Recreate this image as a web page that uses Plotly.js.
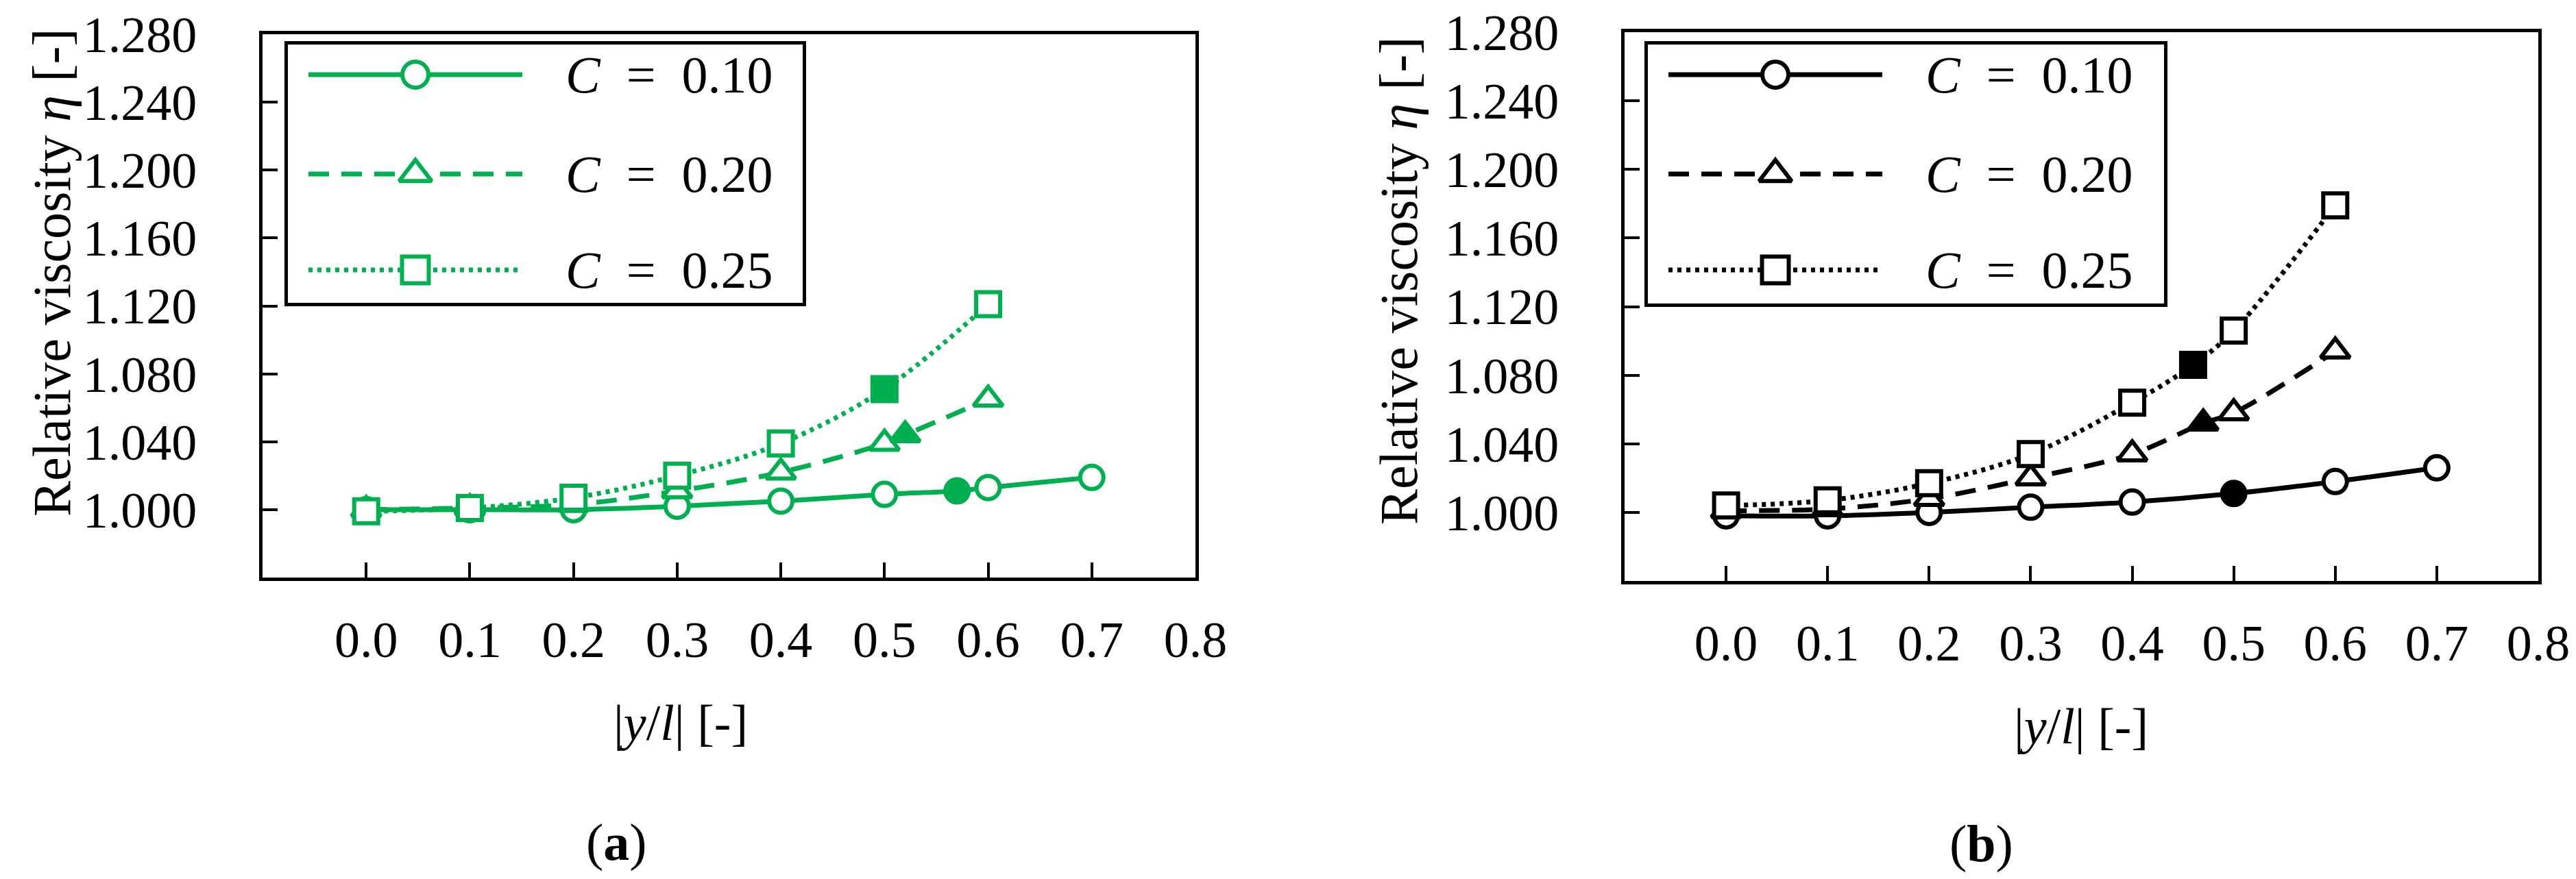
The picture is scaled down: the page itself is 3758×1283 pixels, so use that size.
<!DOCTYPE html>
<html>
<head>
<meta charset="utf-8">
<script src="https://cdn.plot.ly/plotly-3.0.1.min.js"></script>
<style>
  html, body { margin: 0; padding: 0; background: #fff; }
  #chart { width: 3758px; height: 1283px; }
</style>
</head>
<body>
<div id="chart"></div>
<script>

// ---- data ----
var xTicks = [0.0, 0.1, 0.2, 0.3, 0.4, 0.5, 0.6, 0.7, 0.8];
var yTicks = [1.000, 1.040, 1.080, 1.120, 1.160, 1.200, 1.240, 1.280];
var seriesNames = ['C = 0.10', 'C = 0.20', 'C = 0.25'];

// (a) green
var aC10X = [0.0, 0.1, 0.2, 0.3, 0.4, 0.5, 0.57, 0.6, 0.7];
var aC10Y = [1.000, 1.000, 1.000, 1.002, 1.005, 1.009, 1.011, 1.013, 1.019];
var aC10Solid = [0, 0, 0, 0, 0, 0, 1, 0, 0];

var aC20X = [0.0, 0.1, 0.2, 0.3, 0.4, 0.5, 0.52, 0.6];
var aC20Y = [1.000, 1.001, 1.003, 1.011, 1.022, 1.039, 1.044, 1.065];
var aC20Solid = [0, 0, 0, 0, 0, 0, 1, 0];

var aC25X = [0.0, 0.1, 0.2, 0.3, 0.4, 0.5, 0.6];
var aC25Y = [0.999, 1.001, 1.007, 1.020, 1.039, 1.071, 1.121];
var aC25Solid = [0, 0, 0, 0, 0, 1, 0];

// (b) black
var bC10X = [0.0, 0.1, 0.2, 0.3, 0.4, 0.5, 0.6, 0.7];
var bC10Y = [0.998, 0.998, 1.000, 1.003, 1.006, 1.011, 1.018, 1.026];
var bC10Solid = [0, 0, 0, 0, 0, 1, 0, 0];

var bC20X = [0.0, 0.1, 0.2, 0.3, 0.4, 0.47, 0.5, 0.6];
var bC20Y = [1.001, 1.002, 1.008, 1.020, 1.034, 1.052, 1.058, 1.094];
var bC20Solid = [0, 0, 0, 0, 0, 1, 0, 0];

var bC25X = [0.0, 0.1, 0.2, 0.3, 0.4, 0.46, 0.5, 0.6];
var bC25Y = [1.004, 1.007, 1.017, 1.034, 1.064, 1.086, 1.106, 1.179];
var bC25Solid = [0, 0, 0, 0, 0, 1, 0, 0];

// ---- styles ----
var W = 3758, H = 1283;
var GREEN = '#00b050';
var BLACK = '#000000';
var FONT = 'Liberation Serif, Times New Roman, serif';
var symbols = ['circle', 'triangle-up', 'square'];
var sizes = [34, 37, 35];
var dashes = ['solid', '30px,18px', '6px,7px'];

function px2x(p) { return p / W; }
function px2y(p) { return 1 - p / H; }

function series(x, y, solid, k, color, xa, ya) {
    return {
        x: x, y: y,
        xaxis: xa, yaxis: ya,
        type: 'scatter',
        mode: 'lines+markers',
        line: {color: color, width: 7, dash: dashes[k], shape: 'spline', smoothing: 1},
        marker: {
            symbol: symbols[k],
            size: sizes[k],
            color: solid.map(function (s) { return s ? color : '#ffffff'; }),
            line: {color: color, width: 6}
        },
        showlegend: false,
        hoverinfo: 'x+y'
    };
}

// legend box geometry (pixels inside the box)
var legRows = [44, 189, 329];
var legLineX = [30, 342];
var legMarkX = 186;

function legendLine(k, color, xa, ya) {
    return {
        x: legLineX, y: [legRows[k], legRows[k]],
        xaxis: xa, yaxis: ya,
        type: 'scatter', mode: 'lines',
        line: {color: color, width: 7, dash: dashes[k]},
        showlegend: false, hoverinfo: 'skip'
    };
}
function legendMark(k, color, xa, ya) {
    return {
        x: [legMarkX], y: [legRows[k]],
        xaxis: xa, yaxis: ya,
        type: 'scatter', mode: 'markers',
        marker: {symbol: symbols[k], size: sizes[k] + 4, color: '#ffffff',
                 line: {color: color, width: 6}},
        showlegend: false, hoverinfo: 'skip'
    };
}

var traces = [
    series(aC10X, aC10Y, aC10Solid, 0, GREEN, 'x', 'y'),
    series(aC20X, aC20Y, aC20Solid, 1, GREEN, 'x', 'y'),
    series(aC25X, aC25Y, aC25Solid, 2, GREEN, 'x', 'y'),
    series(bC10X, bC10Y, bC10Solid, 0, BLACK, 'x2', 'y2'),
    series(bC20X, bC20Y, bC20Solid, 1, BLACK, 'x2', 'y2'),
    series(bC25X, bC25Y, bC25Solid, 2, BLACK, 'x2', 'y2')
];
for (var k = 0; k < 3; k++) {
    traces.push(legendLine(k, GREEN, 'x3', 'y3'));
    traces.push(legendMark(k, GREEN, 'x3', 'y3'));
    traces.push(legendLine(k, BLACK, 'x4', 'y4'));
    traces.push(legendMark(k, BLACK, 'x4', 'y4'));
}

function xAxis(domain, anchor) {
    return {
        domain: domain, anchor: anchor,
        range: [-0.1, 0.8],
        tickmode: 'array',
        tickvals: xTicks,
        ticktext: xTicks.map(function (v) { return v.toFixed(1); }),
        ticks: 'inside', ticklen: 22, tickwidth: 4, tickcolor: BLACK,
        ticklabelstandoff: 22,
        showline: true, mirror: true, linecolor: BLACK, linewidth: 5,
        showgrid: false, zeroline: false,
        tickfont: {family: FONT, size: 74, color: BLACK}
    };
}
function yAxis(domain, anchor) {
    return {
        domain: domain, anchor: anchor,
        range: [0.96, 1.28],
        tickmode: 'array',
        tickvals: yTicks,
        ticktext: yTicks.map(function (v) { return v.toFixed(3); }),
        ticks: 'inside', ticklen: 22, tickwidth: 4, tickcolor: BLACK,
        ticklabelstandoff: 76,
        showline: true, mirror: true, linecolor: BLACK, linewidth: 5,
        showgrid: false, zeroline: false,
        tickfont: {family: FONT, size: 74, color: BLACK}
    };
}
function boxAxis(domain, anchor, len, rev) {
    return {
        domain: domain, anchor: anchor,
        range: rev ? [len, 0] : [0, len],
        showline: true, mirror: true, linecolor: BLACK, linewidth: 5,
        showgrid: false, zeroline: false, showticklabels: false, ticks: '',
        fixedrange: true
    };
}

var annotations = [];
function addText(text, x, y, size, angle, xanchor) {
    annotations.push({
        text: text, x: px2x(x), y: px2y(y), xref: 'paper', yref: 'paper',
        xanchor: xanchor || 'center', yanchor: 'middle', showarrow: false,
        textangle: angle || 0,
        font: {family: FONT, size: size, color: BLACK}
    });
}

var yTitle = 'Relative viscosity <i>\u03b7</i> [-]';
var xTitle = '|<i>y</i>/<i>l</i>| [-]';
addText(yTitle, 76, 398, 78, -90);
addText(yTitle, 2040, 410, 78, -90);
addText(xTitle, 993, 1055, 74);
addText(xTitle, 3036, 1060, 74);
addText('(<b>a</b>)', 899, 1229, 76);
addText('(<b>b</b>)', 2890, 1231, 76);

var legendNames = seriesNames.map(function (s) {
    return s.replace('C', '<i>C</i>').replace(/ /g, '\u00a0\u00a0');
});
legendNames.forEach(function (name, i) {
    ['3', '4'].forEach(function (n) {
        annotations.push({
            text: name, x: 403, y: legRows[i], xref: 'x' + n, yref: 'y' + n,
            xanchor: 'left', yanchor: 'middle', showarrow: false,
            font: {family: FONT, size: 76, color: BLACK}
        });
    });
});

var layout = {
    width: W, height: H,
    margin: {l: 0, r: 0, t: 0, b: 0},
    paper_bgcolor: '#ffffff',
    plot_bgcolor: 'rgba(0,0,0,0)',
    showlegend: false,
    xaxis: xAxis([px2x(383), px2x(1744)], 'y'),
    yaxis: yAxis([px2y(843), px2y(50)], 'x'),
    xaxis2: xAxis([px2x(2370), px2x(3703)], 'y2'),
    yaxis2: yAxis([px2y(848), px2y(47)], 'x2'),
    xaxis3: boxAxis([px2x(420), px2x(1171)], 'y3', 751, false),
    yaxis3: boxAxis([px2y(442), px2y(65)], 'x3', 377, true),
    xaxis4: boxAxis([px2x(2404), px2x(3157)], 'y4', 753, false),
    yaxis4: boxAxis([px2y(443), px2y(65)], 'x4', 378, true),
    annotations: annotations
};

Plotly.newPlot('chart', traces, layout, {displayModeBar: false, staticPlot: true});

</script>
</body>
</html>
